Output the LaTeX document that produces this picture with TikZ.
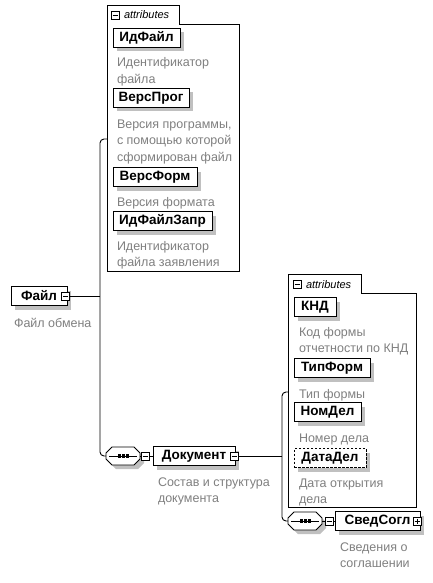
\documentclass[tikz,border=0pt]{standalone}
\usepackage{fontspec}
\setmainfont{Liberation Sans}
\definecolor{descgray}{RGB}{128,128,128}
\definecolor{shadowgray}{RGB}{192,192,192}
\pgfdeclarelayer{back}
\pgfdeclarelayer{shade}
\pgfsetlayers{back,shade,main}
\newcommand\seqshape[1]{%
  \fill[shadowgray] ([xshift=10pt,yshift=-4pt]#1.north west) -- ([xshift=-2pt,yshift=-4pt]#1.north east)
    -- ([xshift=4pt,yshift=-10pt]#1.north east) -- ([xshift=4pt,yshift=2pt]#1.south east)
    -- ([xshift=-2pt,yshift=-4pt]#1.south east) -- ([xshift=10pt,yshift=-4pt]#1.south west)
    -- ([xshift=4pt,yshift=2pt]#1.south west) -- ([xshift=4pt,yshift=-10pt]#1.north west) -- cycle;
  \draw[line width=0.9pt, fill=white] ([xshift=6pt]#1.north west) -- ([xshift=-6pt]#1.north east)
    -- ([yshift=-6pt]#1.north east) -- ([yshift=6pt]#1.south east)
    -- ([xshift=-6pt]#1.south east) -- ([xshift=6pt]#1.south west)
    -- ([yshift=6pt]#1.south west) -- ([yshift=-6pt]#1.north west) -- cycle;
  \draw[line width=0.9pt] ([xshift=3pt]#1.west) -- ([xshift=-3pt]#1.east);
  \foreach \d in {-4,0,4}{\fill ([xshift=\d pt]#1.center) +(-1.5pt,-1.6pt) rectangle +(1.5pt,1.6pt);}%
}
\begin{document}
\begin{tikzpicture}[x=1pt,y=-1pt,
  every node/.style={inner sep=0pt, outer sep=0pt},
  line/.style={line width=0.9pt, draw=black},
  elbox/.style={draw=black, fill=white, line width=0.9pt, minimum height=19pt, anchor=west,
    font=\fontsize{13.5}{15}\selectfont\bfseries},
  optbox/.style={elbox, dash pattern=on 2.5pt off 1.5pt},
  desc/.style={anchor=base west, align=left, text=descgray, font=\fontsize{12.5}{16.5}\selectfont},
  attrtitle/.style={anchor=base west, font=\fontsize{11}{13}\selectfont\itshape},
  attrframe/.style={line width=0.9pt, draw=black},
  iconbox/.style={draw=black, fill=white, line width=0.7pt, minimum size=8pt},
  minusicon/.style={iconbox, path picture={\draw[line width=0.7pt] ([xshift=1.5pt]path picture bounding box.west) -- ([xshift=-1.5pt]path picture bounding box.east);}},
  plusicon/.style={iconbox, path picture={\draw[line width=0.7pt] ([xshift=1.5pt]path picture bounding box.west) -- ([xshift=-1.5pt]path picture bounding box.east); \draw[line width=0.7pt] ([yshift=-1.5pt]path picture bounding box.north) -- ([yshift=1.5pt]path picture bounding box.south);}},
  seqbox/.style={minimum width=34pt, minimum height=18pt}
]
\useasboundingbox (0,0) rectangle (433,583);
\begin{pgfonlayer}{back}
\fill[white] (0,0) rectangle (433,583);
\end{pgfonlayer}

% ---------- attributes of Файл
\draw[attrframe] (107,5) -- (179,5) -- (179,24) -- (239,24) -- (239,271) -- (107,271) -- cycle;
\node[minusicon] (am1) at (115,15) {};
\node[attrtitle] (at1) at (124,19) {attributes};
\coordinate (a1) at (107,139);

\node[elbox, minimum width=67pt] (idfile) at (113,38) {ИдФайл};
\node[desc] (didfile) at (117,83.5) {Идентификатор\\файла};
\node[elbox, minimum width=76pt] (versprog) at (113,98) {ВерсПрог};
\node[desc] (dversprog) at (117,161) {Версия программы,\\с помощью которой\\сформирован файл};
\node[elbox, minimum width=84pt] (versform) at (113,177) {ВерсФорм};
\node[desc] (dversform) at (117,206) {Версия формата};
\node[elbox, minimum width=99pt] (idfilezapr) at (113,221) {ИдФайлЗапр};
\node[desc] (didfilezapr) at (117,266.5) {Идентификатор\\файла заявления};

% ---------- Файл
\node[elbox, minimum width=56pt] (file) at (11,296) {Файл\hspace{9pt}};
\node[minusicon] (filem) at (65.5,296) {};
\node[desc] (dfile) at (14,327) {Файл обмена};

\coordinate (j1) at (100,139);
\coordinate (j1b) at (100,456);

% ---------- Документ
\node[seqbox] (seq1) at (123,456) {};
\seqshape{seq1}
\node[minusicon] (seq1m) at (145,456) {};
\node[elbox, minimum width=82pt] (doc) at (153,456) {Документ\hspace{8pt}};
\node[minusicon] (docm) at (234,456) {};
\node[desc] (ddoc) at (158,502.5) {Состав и структура\\документа};

\coordinate (j2) at (282,392);
\coordinate (j2b) at (282,521);

% ---------- attributes of Документ
\draw[attrframe] (288,274) -- (361,274) -- (361,293) -- (416,293) -- (416,507) -- (288,507) -- cycle;
\node[minusicon] (am2) at (297,284) {};
\node[attrtitle] (at2) at (306,288) {attributes};
\coordinate (a2) at (288,392);

\node[elbox, minimum width=42pt] (knd) at (294,307) {КНД};
\node[desc] (dknd) at (299,352.5) {Код формы\\отчетности по КНД};
\node[elbox, minimum width=76pt] (tipform) at (294,368) {ТипФорм};
\node[desc] (dtipform) at (299,398) {Тип формы};
\node[elbox, minimum width=67pt] (nomdel) at (294,412) {НомДел};
\node[desc] (dnomdel) at (299,442) {Номер дела};
\node[optbox, minimum width=72pt] (datadel) at (294,458) {ДатаДел};
\node[desc] (ddatadel) at (299,503.5) {Дата открытия\\дела};

% ---------- СведСогл
\node[seqbox] (seq2) at (305,521) {};
\seqshape{seq2}
\node[minusicon] (seq2m) at (329,521) {};
\node[elbox, minimum width=85pt] (svedsogl) at (335,521) {СведСогл\hspace{8pt}};
\node[plusicon] (svedp) at (417,521) {};
\node[desc] (dsvedsogl) at (340,567.5) {Сведения о\\соглашении};

% ---------- shadows of element boxes
\begin{pgfonlayer}{shade}
\foreach \n in {idfile,versprog,versform,idfilezapr,file,doc,knd,tipform,nomdel,datadel,svedsogl}{
  \fill[shadowgray] ([xshift=4pt,yshift=-4pt]\n.south west) rectangle ([xshift=4pt,yshift=-4pt]\n.north east);
}
\end{pgfonlayer}

% ---------- connectors
\draw[line] (filem.east) -- (filem.east -| j1);
\draw[line, rounded corners=4pt] (a1) -- (j1) -- (j1b) -- (seq1.west);
\draw[line] (seq1.east) -- (seq1m.west);
\draw[line] (seq1m.east) -- (doc.west);
\draw[line] (docm.east) -- (docm.east -| j2);
\draw[line, rounded corners=4pt] (a2) -- (j2) -- (j2b) -- (seq2.west);
\draw[line] (seq2.east) -- (seq2m.west);
\draw[line] (seq2m.east) -- (svedsogl.west);
\end{tikzpicture}
\end{document}
